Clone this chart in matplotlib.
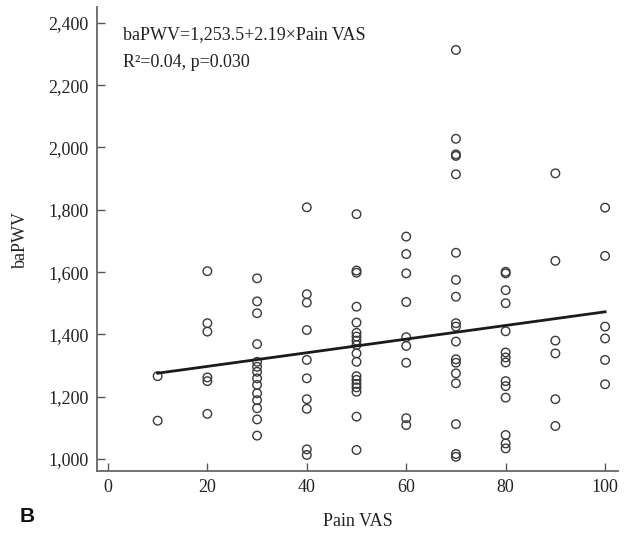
import matplotlib
matplotlib.use("Agg")
import matplotlib.pyplot as plt
import numpy as np

# Data (Pain VAS -> baPWV values)
vas_10 = [1266, 1123]
vas_20 = [1603, 1436, 1409, 1262, 1250, 1145]
vas_30 = [1580, 1506, 1468, 1369, 1312, 1296, 1280, 1259, 1238, 1211, 1189, 1163, 1127, 1075]
vas_40 = [1808, 1529, 1502, 1414, 1318, 1259, 1192, 1161, 1031, 1013]
vas_50 = [1786, 1605, 1598, 1489, 1438, 1405, 1393, 1380, 1366, 1339, 1312,
          1266, 1254, 1241, 1230, 1216, 1136, 1029]
vas_60 = [1714, 1658, 1596, 1504, 1391, 1363, 1309, 1131, 1109]
vas_70 = [2313, 2028, 1978, 1973, 1914, 1662, 1575, 1521, 1436, 1425, 1377,
          1320, 1309, 1275, 1243, 1112, 1016, 1007]
vas_80 = [1601, 1596, 1542, 1500, 1410, 1342, 1326, 1310, 1250, 1234, 1197, 1077, 1050, 1034]
vas_90 = [1917, 1636, 1380, 1339, 1192, 1106]
vas_100 = [1807, 1652, 1425, 1387, 1318, 1240]

groups = {10: vas_10, 20: vas_20, 30: vas_30, 40: vas_40, 50: vas_50,
          60: vas_60, 70: vas_70, 80: vas_80, 90: vas_90, 100: vas_100}

intercept = 1253.5
slope = 2.19
fit_x = [10, 100]

x_ticks = [0, 20, 40, 60, 80, 100]
y_ticks = [1000, 1200, 1400, 1600, 1800, 2000, 2200, 2400]
y_tick_labels = ["1,000", "1,200", "1,400", "1,600", "1,800", "2,000", "2,200", "2,400"]

serif = ["Liberation Serif", "DejaVu Serif"]

fig = plt.figure(figsize=(6.36, 5.37), dpi=100)
ax = fig.add_axes([97/636, 1 - 471/537, (618 - 97)/636, (471 - 7)/537])

xs, ys = [], []
for k, vals in groups.items():
    xs += [k] * len(vals)
    ys += vals
ax.scatter(xs, ys, s=38, facecolors="none", edgecolors="#3a3a3a", linewidths=1.0, zorder=2)

fx = np.array(fit_x, dtype=float)
ax.plot(fx, intercept + slope * fx, color="#1a1a1a", lw=2.0, zorder=3)

ax.set_xlim(-2.2, 102.6)
ax.set_ylim(961.5, 2451)
ax.set_xticks(x_ticks)
ax.set_xticklabels([str(t) for t in x_ticks], fontfamily=serif, fontsize=13)
ax.set_yticks(y_ticks)
ax.set_yticklabels(y_tick_labels, fontfamily=serif, fontsize=13)
ax.tick_params(direction="in", length=5.5, width=1.0, color="#555555", labelcolor="#222222", pad=6)

for s in ["top", "right"]:
    ax.spines[s].set_visible(False)
for s in ["left", "bottom"]:
    ax.spines[s].set_color("#666666")
    ax.spines[s].set_linewidth(1.3)

ax.set_xlabel("Pain VAS", fontfamily=serif, fontsize=13, color="#222222", labelpad=12)
ax.set_ylabel("baPWV", fontfamily=serif, fontsize=13, color="#222222", labelpad=14)

ax.text(0.05, 0.958, "baPWV=1,253.5+2.19\u00d7Pain VAS", transform=ax.transAxes,
        fontfamily=serif, fontsize=13, color="#222222", va="top", ha="left")
ax.text(0.05, 0.898, "R\u00b2=0.04, p=0.030", transform=ax.transAxes,
        fontfamily=serif, fontsize=13, color="#222222", va="top", ha="left")

fig.text(20/636, 1 - 517/537, "B", fontfamily=["Liberation Sans", "DejaVu Sans"],
         fontweight="bold", fontsize=15, va="center", ha="left", color="#111111")

fig.savefig("out.png", dpi=100)
